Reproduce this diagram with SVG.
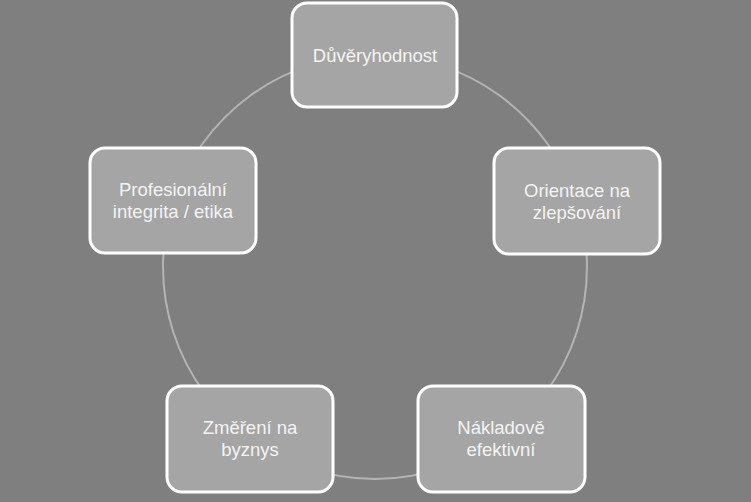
<svg xmlns="http://www.w3.org/2000/svg" width="751" height="502" viewBox="0 0 751 502">
<style>
.bg{fill:#7f7f7f}
.conn{fill:none;stroke:#b4b4b4;stroke-width:2}
.box{fill:#a5a5a5;stroke:#ffffff;stroke-width:3}
.lbl{font-family:"Liberation Sans",Arial,sans-serif;font-size:18.5px;fill:#f4f4f4;text-anchor:middle}
</style>
<rect class="bg" x="0" y="0" width="751" height="502"/>
<g id="connectors">
<path class="conn" d="M375 55 A212 212 0 0 1 576.6 201.5"/>
<path class="conn" d="M576.6 201.5 A212 212 0 0 1 499.6 438.5"/>
<path class="conn" d="M499.6 438.5 A212 212 0 0 1 250.4 438.5"/>
<path class="conn" d="M250.4 438.5 A212 212 0 0 1 173.4 201.5"/>
<path class="conn" d="M173.4 201.5 A212 212 0 0 1 375 55"/>
</g>
<g id="node-duveryhodnost">
<rect class="box" x="292" y="3" width="165" height="104" rx="15"/>
<text class="lbl" x="375" y="61.5">Důvěryhodnost</text>
</g>
<g id="node-orientace">
<rect class="box" x="494" y="148" width="166" height="106" rx="15"/>
<text class="lbl" x="577" y="196.5">Orientace na</text>
<text class="lbl" x="577" y="218.5">zlepšování</text>
</g>
<g id="node-nakladove">
<rect class="box" x="418" y="386" width="167" height="106" rx="15"/>
<text class="lbl" x="501" y="434">Nákladově</text>
<text class="lbl" x="501" y="456">efektivní</text>
</g>
<g id="node-zmereni">
<rect class="box" x="167" y="386" width="166" height="106" rx="15"/>
<text class="lbl" x="250" y="434">Změření na</text>
<text class="lbl" x="250" y="456">byznys</text>
</g>
<g id="node-profesionalni">
<rect class="box" x="90" y="148" width="166" height="105" rx="15"/>
<text class="lbl" x="173" y="196">Profesionální</text>
<text class="lbl" x="173" y="218">integrita / etika</text>
</g>
</svg>
